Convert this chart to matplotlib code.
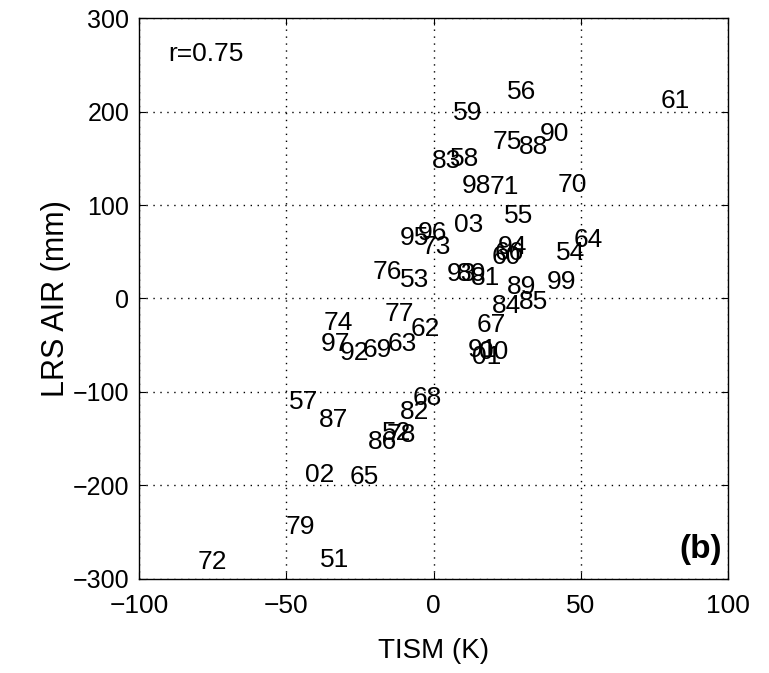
import matplotlib
matplotlib.use("Agg")
import matplotlib.pyplot as plt

plt.rcParams['font.family'] = ['Liberation Sans', 'DejaVu Sans']

# year labels (two digits) with TISM (K) and LRS AIR (mm)
years = ['56', '59', '61', '75', '88', '90', '83', '58', '98', '71',
         '70', '55', '03', '95', '96', '73', '64', '54', '94', '66',
         '60', '76', '53', '93', '80', '81', '99', '89', '85', '84',
         '77', '74', '62', '67', '97', '92', '69', '63', '91', '00',
         '01', '57', '87', '68', '82', '52', '78', '86', '02', '65',
         '79', '72', '51']
tism = [25, 6.4, 77, 20, 29, 36, -0.7, 5.4, 9.5, 19,
        42, 24, 7, -11.5, -5.4, -4, 47.6, 41.5, 21.6, 20.6,
        19.6, -20.6, -11.5, 4.4, 7.8, 12.5, 38.5, 25, 29, 19.6,
        -16.5, -37.5, -8, 14.5, -38.5, -31.8, -24.3, -15.5, 11.5, 15.5,
        13, -49, -39, -7, -11.5, -17.6, -16, -22.3, -43.6, -28.7,
        -50.3, -80, -38.5]
lrs = [221, 199, 211, 168, 162, 176, 147, 149, 120, 119,
       121, 88, 79, 65, 70, 55, 63, 49, 55, 49,
       44, 28, 20, 26, 26, 22, 18, 12, -4, -8,
       -17, -26, -33, -28, -49, -58, -55, -49, -55, -57,
       -63, -111, -130, -106, -122, -144, -146, -154, -189, -191,
       -245, -282, -280]

fig = plt.figure(figsize=(7.69, 6.73), dpi=100)
ax = fig.add_axes([0.181, 0.140, 0.766, 0.833])

for lab, x, y in zip(years, tism, lrs):
    ax.text(x, y, lab, fontsize=19, ha='left', va='center')

ax.text(-90, 262, 'r=0.75', fontsize=19, ha='left', va='center')
ax.text(0.99, 0.025, '(b)', transform=ax.transAxes, fontsize=24,
        fontweight='bold', ha='right', va='bottom')

ax.set_xlim(-100, 100)
ax.set_ylim(-300, 300)
ax.set_xticks([-100, -50, 0, 50, 100])
ax.set_yticks([-300, -200, -100, 0, 100, 200, 300])
ax.grid(True, color='black', linestyle=(0, (1, 4)), linewidth=1.0)
ax.tick_params(direction='in', top=True, right=True, length=5)
ax.tick_params(axis='x', pad=11, labelsize=19)
ax.tick_params(axis='y', pad=7, labelsize=18)
ax.set_xlabel('TISM (K)', fontsize=20, labelpad=14)
ax.set_ylabel('LRS AIR (mm)', fontsize=22, labelpad=1)
for s in ax.spines.values():
    s.set_linewidth(1.0)

fig.savefig('out.png', dpi=100)
